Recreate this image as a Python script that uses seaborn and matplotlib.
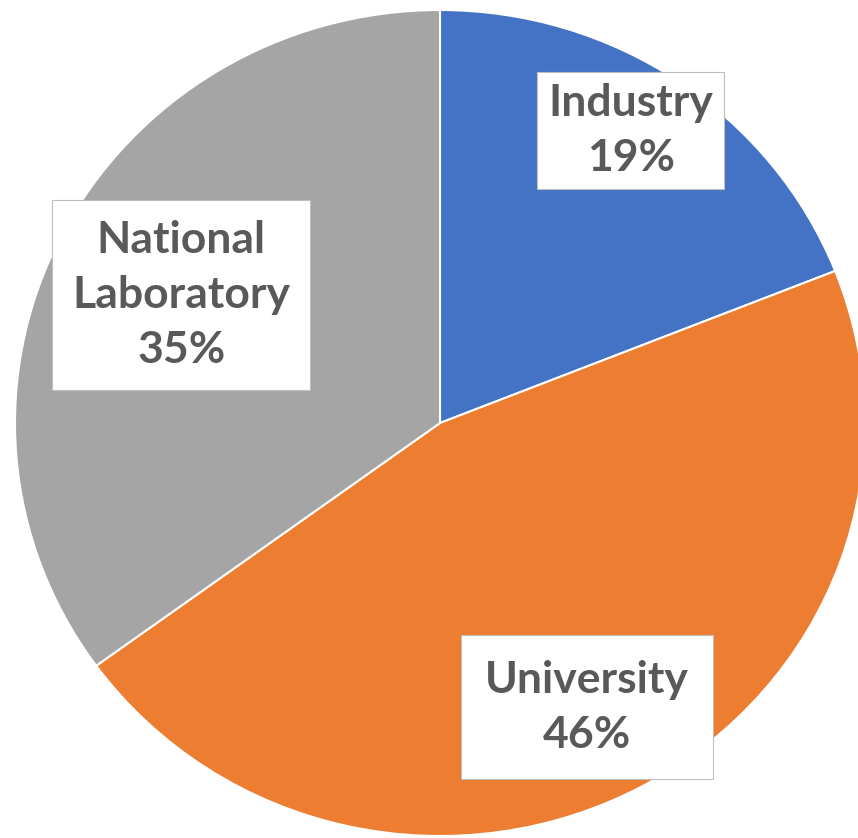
import matplotlib
matplotlib.use("Agg")
import matplotlib.pyplot as plt
import seaborn as sns
import numpy as np

# data
sectors = ["Industry", "University", "National\nLaboratory"]
shares = [19, 46, 35]
colors = ["#4472C4", "#ED7D31", "#A5A5A5"]

# label placement (distance from centre, angle tweak in degrees, box padding)
label_dist = [0.838, 0.77, 0.683]
label_shift = [1.8, -2.1, 0.0]
box_pad = [0.25, 0.55, 0.45]

sns.set_theme(style="white")
plt.rcParams["font.family"] = ["Lato", "DejaVu Sans"]

fig = plt.figure(figsize=(8.58, 8.38), dpi=100)
# pie in the original is slightly stretched horizontally
ax = fig.add_axes([15 / 858, 2 / 838, 850 / 858, 826 / 838])

labels = [f"{s}\n{v}%" for s, v in zip(sectors, shares)]
wedges, texts = ax.pie(
    shares, labels=labels, colors=colors, startangle=90, counterclock=False,
    labeldistance=0.8, wedgeprops=dict(edgecolor="white", linewidth=1.5),
    textprops=dict(fontsize=32, fontweight="bold", color="#595959",
                   ha="center", va="center", linespacing=1.45),
)

for w, t, d, s, p in zip(wedges, texts, label_dist, label_shift, box_pad):
    ang = np.deg2rad((w.theta1 + w.theta2) / 2 + s)
    t.set_position((d * np.cos(ang), d * np.sin(ang)))
    t.set_horizontalalignment("center")
    t.set_multialignment("center")
    t.set_bbox(dict(boxstyle=f"square,pad={p}", facecolor="white",
                    edgecolor="#BFBFBF", linewidth=0.8))

ax.set_xlim(-1, 1)
ax.set_ylim(-1, 1)
ax.set_aspect("auto")
ax.axis("off")

fig.savefig("out.png", dpi=100)
